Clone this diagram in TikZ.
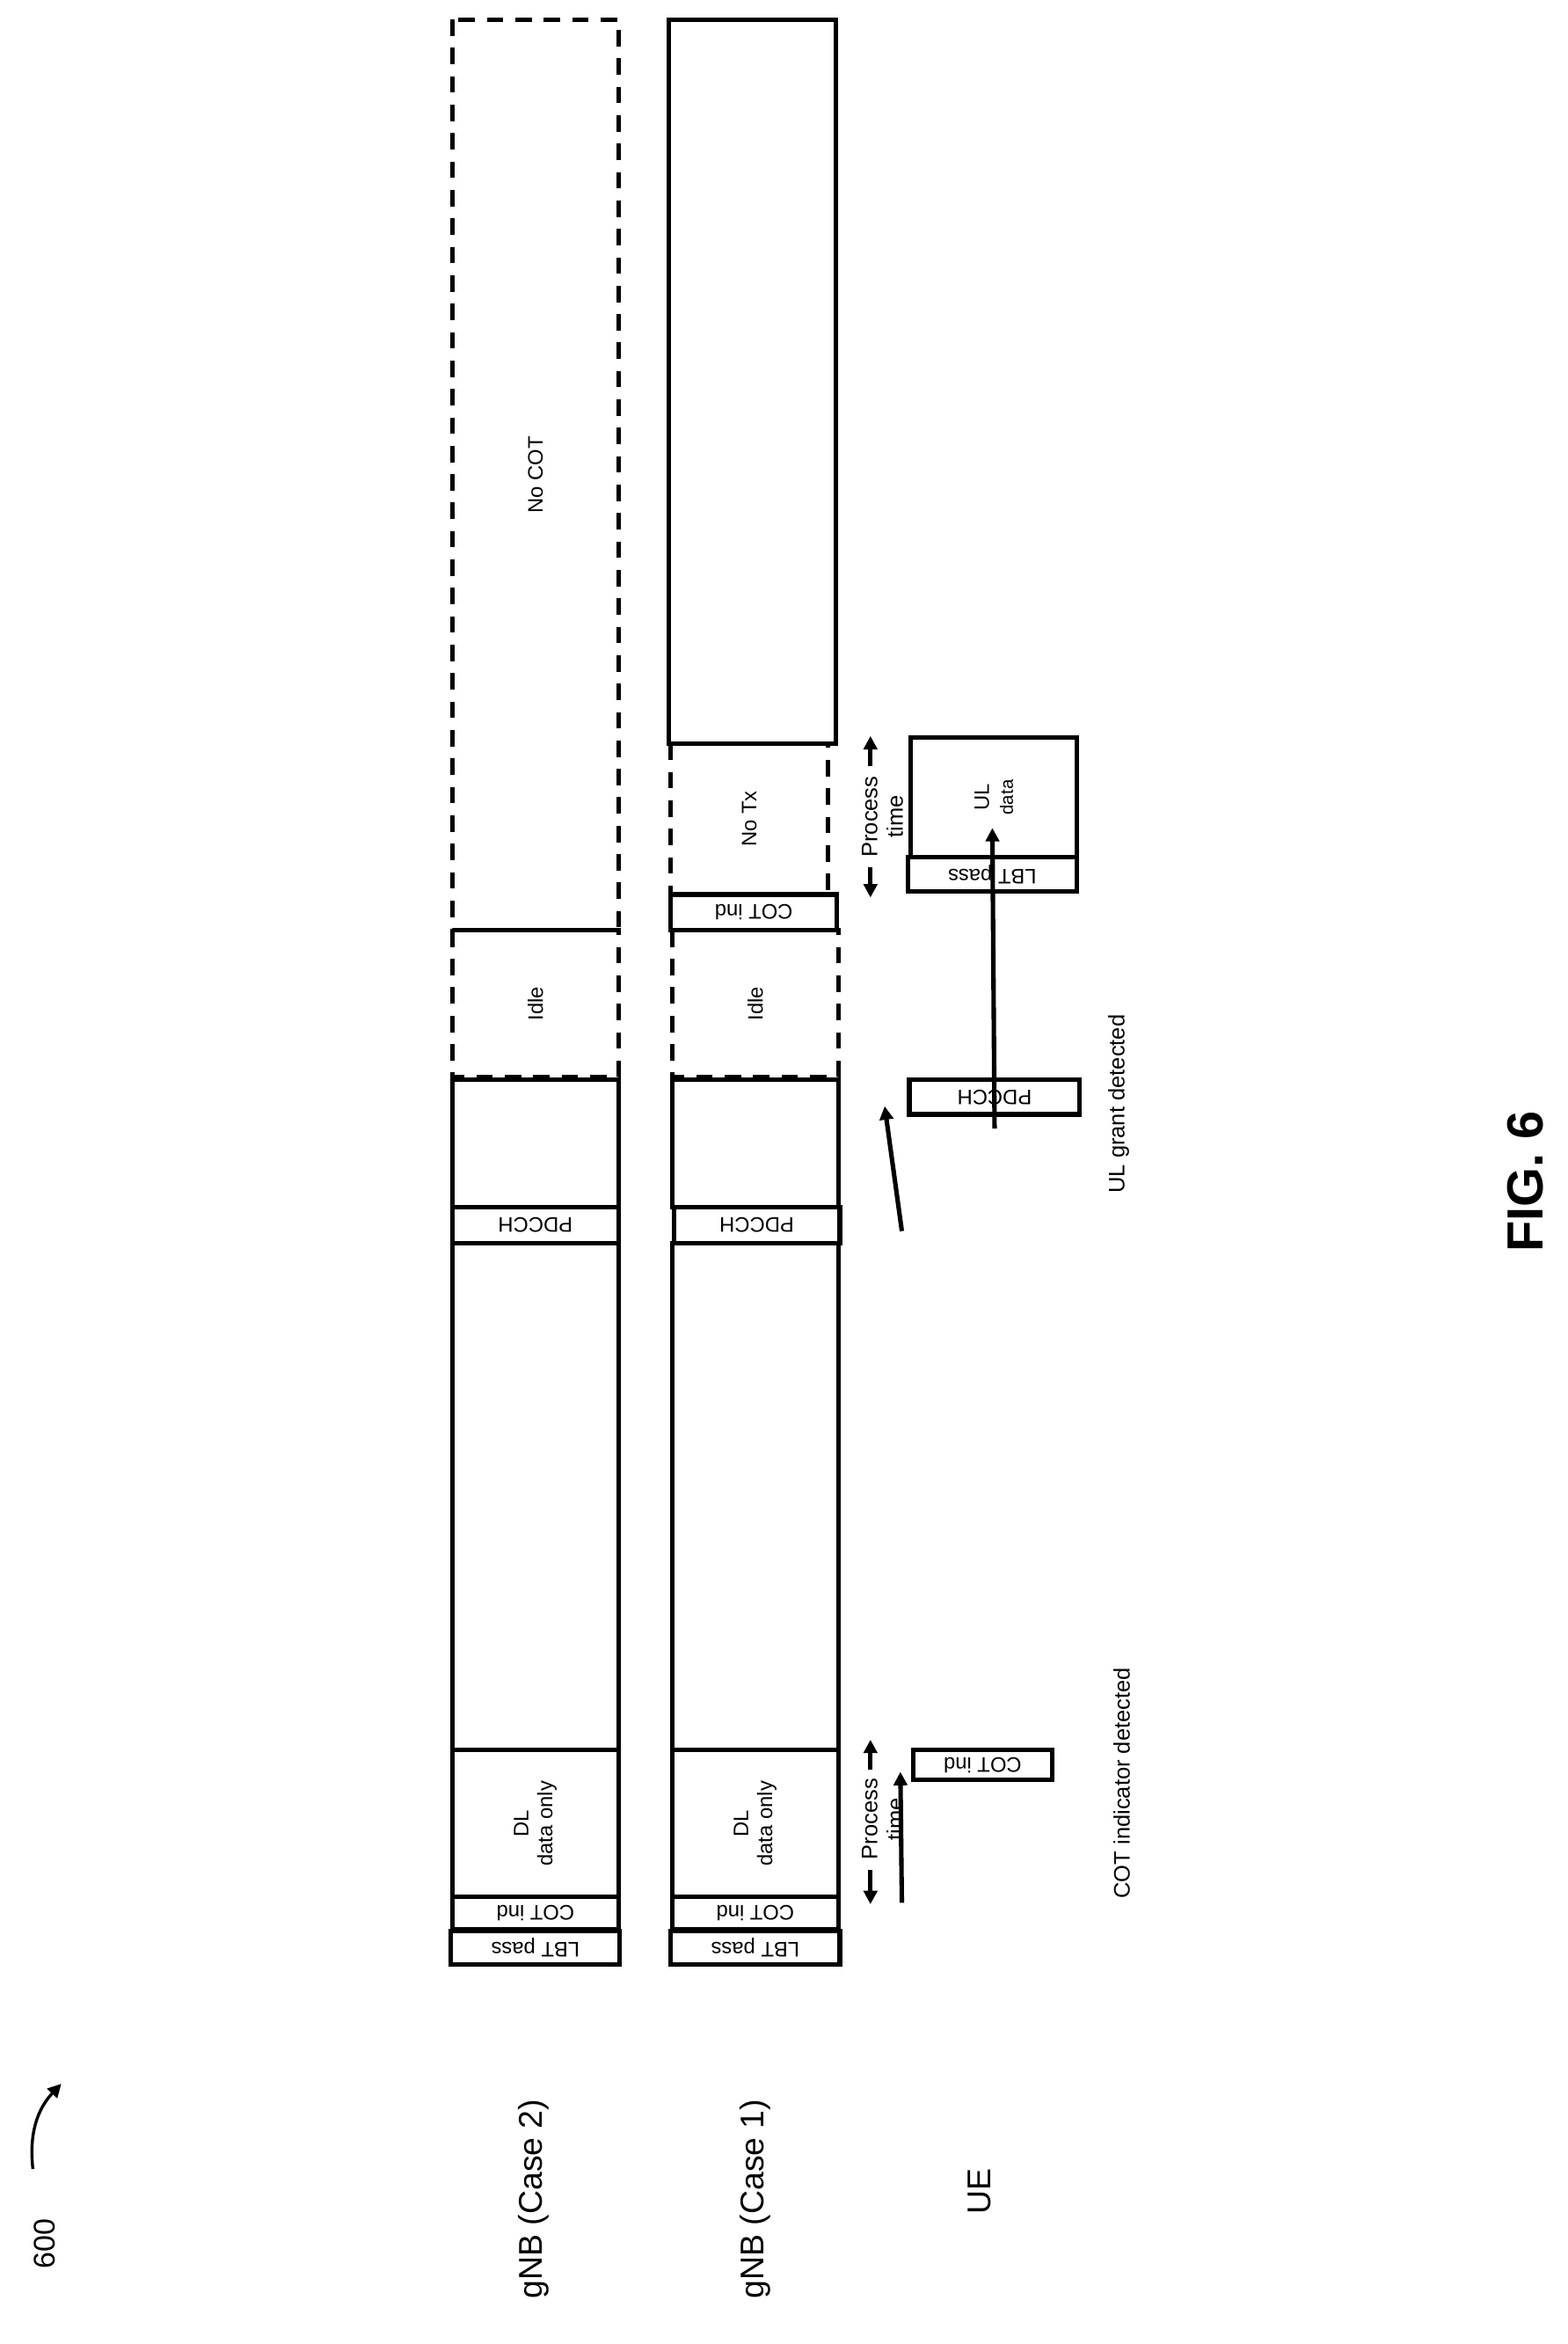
\documentclass[tikz,border=0pt]{standalone}
\usepackage{fontspec}
\setmainfont{Liberation Sans}
\usetikzlibrary{arrows.meta,positioning}
\begin{document}
\begin{tikzpicture}[x=1pt, y=-1pt, >={Triangle[length=9pt,width=9pt]},
		slot/.style={draw, line width=3pt, inner sep=0pt, font=\fontsize{14}{16}\selectfont, align=center},
		slotdash/.style={slot, dash pattern=on 11pt off 8pt},
		upside/.style={rotate=180},
		side/.style={rotate=90},
		rowlabel/.style={rotate=90, font=\fontsize{22}{26}\selectfont},
		note/.style={rotate=90, font=\fontsize{15}{18}\selectfont},
		flow/.style={line width=3pt, ->}
		]
	\useasboundingbox (0,0) rectangle (1048,1567);
	
	% gNB case 2
	\node [slot, upside, minimum width=113pt, minimum height=22pt] (lbt2) at (358,1302) {LBT pass};
	\node [slot, upside, minimum width=111pt, minimum height=22pt] (cot2) at (358,1279) {COT ind};
	\node [slot, side, minimum width=98pt, minimum height=111pt] (dl2) at (358,1219) {DL\\ data only};
	\node [slot, minimum width=111pt, minimum height=339pt] (mid2) at (358,1000.5) {};
	\node [slot, upside, minimum width=111pt, minimum height=24pt] (pd2) at (358,819) {PDCCH};
	\node [slot, minimum width=111pt, minimum height=85pt] (top2) at (358,764.5) {};
	\node [slotdash, side, minimum width=98pt, minimum height=111pt] (idle2) at (358,671) {Idle};
	\node [slotdash, side, minimum width=609pt, minimum height=111pt] (nocot) at (358,317.5) {No COT};
	
	% gNB case 1
	\node [slot, upside, minimum width=113pt, minimum height=22pt] (lbt1) at (505,1302) {LBT pass};
	\node [slot, upside, minimum width=111pt, minimum height=22pt] (cot1) at (505,1279) {COT ind};
	\node [slot, side, minimum width=98pt, minimum height=111pt] (dl1) at (505,1219) {DL\\ data only};
	\node [slot, minimum width=111pt, minimum height=339pt] (mid1) at (505,1000.5) {};
	\node [slot, upside, minimum width=111pt, minimum height=24pt] (pd1) at (506,819) {PDCCH};
	\node [slot, minimum width=111pt, minimum height=85pt] (top1) at (505,764.5) {};
	\node [slotdash, side, minimum width=98pt, minimum height=111pt] (idle1) at (505,671) {Idle};
	\node [slot, upside, minimum width=111pt, minimum height=24pt] (cotb1) at (504,610) {COT ind};
	\node [slotdash, side, minimum width=101pt, minimum height=105pt] (notx) at (501,547.5) {No Tx};
	\node [slot, minimum width=112pt, minimum height=484pt] (tx1) at (503,255) {};
	
	% UE
	\node [slot, upside, minimum width=93pt, minimum height=20pt] (coti) at (657,1180) {COT ind};
	\node [slot, upside, minimum width=114pt, minimum height=23pt] (pdue) at (665,733.5) {PDCCH};
	\node [slot, upside, minimum width=113pt, minimum height=23pt] (lbtue) at (663.5,584.5) {LBT pass};
	\node [slot, side, minimum width=80pt, minimum height=111pt] (uldata) at (664.5,533) {UL\\ {\fontsize{12}{14}\selectfont data}};
	
	% arrows
	\coordinate (s1) at (603,1272);
	\coordinate (s2) at (603,823);
	\draw [flow] (s1) -- ([xshift=-7pt, yshift=7pt]coti.north east);
	\draw [flow] (s2) -- ([xshift=-15pt, yshift=7pt]pdue.north east);
	\draw [flow] ([yshift=-8pt]pdue.north) -- ([yshift=18pt]lbtue.south);
	
	% process time
	\node [rotate=90, align=center, font=\fontsize{15}{17}\selectfont, inner sep=1pt] (pt1) at (590,1216) {Process\\ time};
	\coordinate (pa1) at (582,1250);
	\coordinate (pb1) at (582,1183);
	\draw [line width=3pt, ->] (pa1) -- (582,1273);
	\draw [line width=3pt, ->] (pb1) -- (582,1163);
	\node [rotate=90, align=center, font=\fontsize{15}{17}\selectfont, inner sep=1pt] (pt2) at (590,546) {Process\\ time};
	\coordinate (pa2) at (582,580);
	\coordinate (pb2) at (582,512);
	\draw [line width=3pt, ->] (pa2) -- (582,600);
	\draw [line width=3pt, ->] (pb2) -- (582,492);
	
	% labels
	\node [note] (l1) at (750,1192) {COT indicator detected};
	\node [note] (l2) at (748,738) {UL grant detected};
	\node [rowlabel] (r2) at (357,1470) {gNB (Case 2)};
	\node [rowlabel] (r1) at (505,1470) {gNB (Case 1)};
	\node [rowlabel] (r0) at (655,1465) {UE};
	\node [rotate=90, font=\fontsize{20}{24}\selectfont] (fignum) at (30,1500) {600};
	\coordinate (c600) at (22,1450);
	\draw [line width=2pt, ->] (c600) to [bend left=25] (41,1393);
	\node [rotate=90, font=\fontsize{34}{40}\selectfont\bfseries] (fig) at (1020,790) {FIG. 6};
\end{tikzpicture}
\end{document}
